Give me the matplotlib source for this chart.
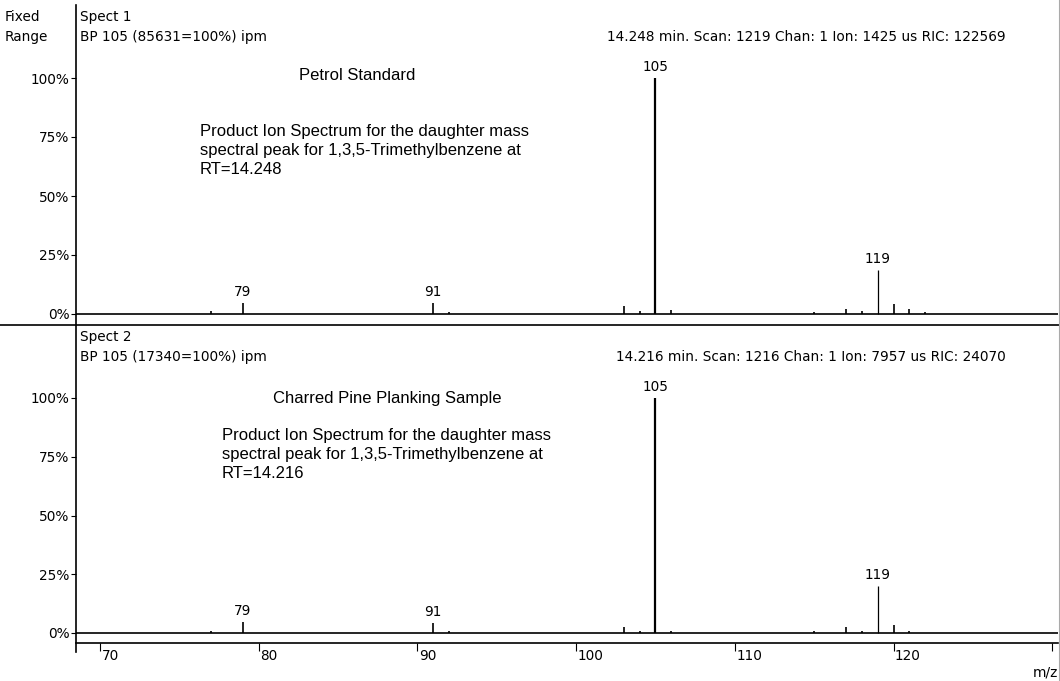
import matplotlib
matplotlib.use('Agg')
import matplotlib.pyplot as plt
from matplotlib.lines import Line2D

# peak lists (m/z, % of base peak)
mz_top = [77, 79, 91, 92, 103, 104, 105, 106, 115, 117, 118, 119, 120, 121, 122]
int_top = [1.1, 4.7, 4.7, 1.0, 3.4, 1.1, 100, 1.7, 1.0, 2.3, 1.1, 18.5, 4.2, 2.3, 0.8]
mz_bot = [77, 79, 91, 92, 103, 104, 105, 106, 115, 117, 118, 119, 120, 121]
int_bot = [0.9, 4.7, 4.1, 0.9, 2.7, 0.9, 100, 0.7, 0.7, 2.7, 0.9, 20, 3.4, 0.7]
labelled = [79, 91, 105, 119]

y_ticks = [0, 25, 50, 75, 100]
y_ticklabels = ['0%', '25%', '50%', '75%', '100%']
x_ticks = [70, 80, 90, 100, 110, 120]

spect_names = ['Spect 1', 'Spect 2']
bp_text = ['BP 105 (85631=100%) ipm', 'BP 105 (17340=100%) ipm']
scan_text = ['14.248 min. Scan: 1219 Chan: 1 Ion: 1425 us RIC: 122569',
             '14.216 min. Scan: 1216 Chan: 1 Ion: 7957 us RIC: 24070']
titles = ['Petrol Standard', 'Charred Pine Planking Sample']
notes = ['Product Ion Spectrum for the daughter mass\nspectral peak for 1,3,5-Trimethylbenzene at\nRT=14.248',
         'Product Ion Spectrum for the daughter mass\nspectral peak for 1,3,5-Trimethylbenzene at\nRT=14.216']

W, H = 1060, 681
fig = plt.figure(figsize=(W/100, H/100), dpi=100)

def fx(px):
    return px / W

def fy(py):
    return 1 - py / H

hdr_font = dict(family='DejaVu Sans', size=9.8)
ann_font = dict(family='Liberation Sans', size=12)

# panel geometry in pixels: (top, bottom, y of 0%, y of 100%)
panels = [(5, 325, 314, 78), (325, 643, 633, 398)]
x_left, x_right = 76, 1058
xlim = (70 - 24/15.87, 70 + 958/15.87)

axes = []
for i, (top, bot, y0, y100) in enumerate(panels):
    ax = fig.add_axes([fx(x_left), fy(bot), fx(x_right - x_left), (bot - top)/H])
    ppp = (y0 - y100) / 100.0
    ax.set_ylim(-(bot - y0)/ppp, (y0 - top)/ppp)
    ax.set_xlim(*xlim)
    for s in ax.spines.values():
        s.set_visible(False)
    ax.patch.set_visible(False)

    mz = [mz_top, mz_bot][i]
    inten = [int_top, int_bot][i]
    lws = [1.6 if m == 105 else (0.9 if m == 119 else 1.2) for m in mz]
    ax.vlines(mz, 0, inten, colors='black', linewidth=lws)
    ax.axhline(0, color='black', linewidth=1.2)
    for m, v in zip(mz, inten):
        if m in labelled:
            ax.annotate(str(m), (m, v), xytext=(0, 3), textcoords='offset points',
                        ha='center', va='bottom', **hdr_font)

    ax.set_yticks(y_ticks)
    ax.set_yticklabels(y_ticklabels, **hdr_font)
    ax.tick_params(axis='y', direction='out', length=3.5, width=0.8, pad=1)
    ax.set_xticks([])
    axes.append(ax)

    # header texts
    fig.text(fx(80), fy(top + 12), spect_names[i], va='center', ha='left', **hdr_font)
    fig.text(fx(80), fy(top + 32), bp_text[i], va='center', ha='left', **hdr_font)
    fig.text(fx(1006), fy(top + 32), scan_text[i], va='center', ha='right', **hdr_font)

fig.text(fx(5), fy(17), 'Fixed', va='center', ha='left', **hdr_font)
fig.text(fx(5), fy(37), 'Range', va='center', ha='left', **hdr_font)

# annotations inside the panels
fig.text(fx(357), fy(76), titles[0], ha='center', va='center', **ann_font)
fig.text(fx(387), fy(398), titles[1], ha='center', va='center', **ann_font)
fig.text(fx(200), fy(124), notes[0], ha='left', va='top', linespacing=1.32, **ann_font)
fig.text(fx(222), fy(428), notes[1], ha='left', va='top', linespacing=1.32, **ann_font)

# bottom m/z axis with ticks hanging below and labels to the right
axb = axes[1]
axb.spines['bottom'].set_visible(True)
axb.spines['bottom'].set_linewidth(1.2)
axb.set_xticks(x_ticks + [130])
axb.set_xticklabels([])
axb.tick_params(axis='x', direction='out', length=6, width=0.8)
for t in x_ticks:
    axb.annotate(str(t), (t, 0), xycoords=('data', 'axes fraction'),
                 xytext=(1, -4), textcoords='offset points',
                 ha='left', va='top', **hdr_font)
fig.text(fx(1058), fy(672), 'm/z', ha='right', va='center', **hdr_font)

# frame lines: left axis, panel separator, light right border
fig.add_artist(Line2D([fx(x_left), fx(x_left)], [fy(5), fy(652)], color='black', linewidth=1.2))
fig.add_artist(Line2D([0, 1], [fy(325), fy(325)], color='black', linewidth=1.2))
fig.add_artist(Line2D([fx(1059), fx(1059)], [fy(0), fy(681)], color='#aaaaaa', linewidth=0.8))

fig.savefig('out.png', dpi=100)
